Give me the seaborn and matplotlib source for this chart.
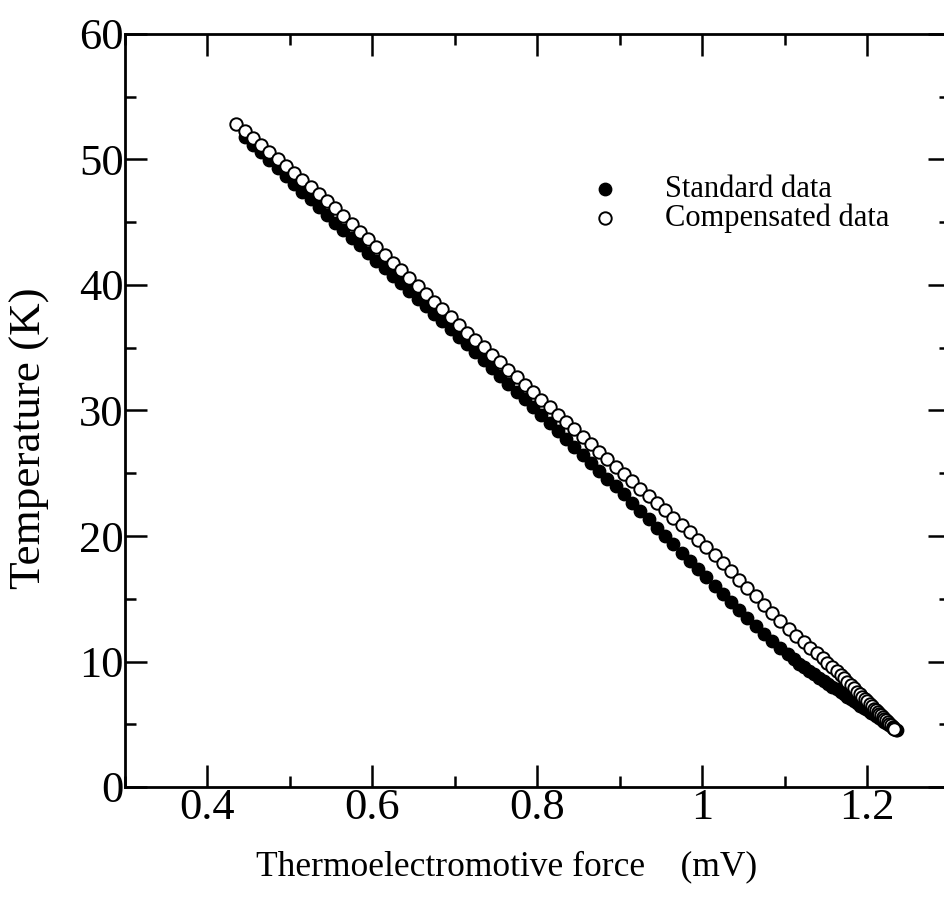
import matplotlib
matplotlib.use("Agg")
import matplotlib.pyplot as plt
import seaborn as sns
import pandas as pd
from matplotlib.ticker import MultipleLocator, FixedLocator

# ---------------- data ----------------
std_emf = [0.445, 0.455, 0.465, 0.475, 0.485, 0.495, 0.505, 0.515, 0.525, 0.535,
           0.545, 0.555, 0.565, 0.575, 0.585, 0.595, 0.605, 0.615, 0.625, 0.635,
           0.645, 0.655, 0.665, 0.675, 0.685, 0.695, 0.705, 0.715, 0.725, 0.735,
           0.745, 0.755, 0.765, 0.775, 0.785, 0.795, 0.805, 0.815, 0.825, 0.835,
           0.845, 0.855, 0.865, 0.875, 0.885, 0.895, 0.905, 0.915, 0.925, 0.935,
           0.945, 0.955, 0.965, 0.975, 0.985, 0.995, 1.005, 1.015, 1.025, 1.035,
           1.045, 1.055, 1.065, 1.075, 1.085, 1.095, 1.104, 1.111, 1.118, 1.124,
           1.130, 1.136, 1.142, 1.148, 1.153, 1.158, 1.163, 1.168, 1.172, 1.176,
           1.180, 1.184, 1.188, 1.192, 1.196, 1.199, 1.202, 1.205, 1.208, 1.211,
           1.214, 1.217, 1.219, 1.221, 1.223, 1.225, 1.227, 1.229, 1.231, 1.233,
           1.235, 1.236]
std_temp = [51.80, 51.18, 50.56, 49.94, 49.32, 48.70, 48.07, 47.45, 46.83, 46.21,
            45.59, 44.97, 44.36, 43.75, 43.15, 42.54, 41.94, 41.33, 40.73, 40.12,
            39.52, 38.91, 38.31, 37.70, 37.10, 36.49, 35.89, 35.28, 34.66, 34.03,
            33.40, 32.77, 32.14, 31.51, 30.88, 30.25, 29.62, 28.99, 28.36, 27.73,
            27.10, 26.47, 25.84, 25.21, 24.58, 23.95, 23.31, 22.65, 21.99, 21.32,
            20.66, 20.00, 19.34, 18.68, 18.02, 17.36, 16.70, 16.05, 15.39, 14.74,
            14.08, 13.45, 12.83, 12.22, 11.63, 11.06, 10.56, 10.19, 9.84, 9.55,
            9.27, 8.99, 8.72, 8.45, 8.22, 8.00, 7.78, 7.56, 7.38, 7.20,
            7.03, 6.85, 6.67, 6.49, 6.31, 6.18, 6.04, 5.91, 5.78, 5.64,
            5.51, 5.38, 5.29, 5.20, 5.11, 5.02, 4.93, 4.84, 4.76, 4.67,
            4.58, 4.54]

comp_emf = [0.435, 0.445, 0.455, 0.465, 0.475, 0.485, 0.495, 0.505, 0.515, 0.525,
            0.535, 0.545, 0.555, 0.565, 0.575, 0.585, 0.595, 0.605, 0.615, 0.625,
            0.635, 0.645, 0.655, 0.665, 0.675, 0.685, 0.695, 0.705, 0.715, 0.725,
            0.735, 0.745, 0.755, 0.765, 0.775, 0.785, 0.795, 0.805, 0.815, 0.825,
            0.835, 0.845, 0.855, 0.865, 0.875, 0.885, 0.895, 0.905, 0.915, 0.925,
            0.935, 0.945, 0.955, 0.965, 0.975, 0.985, 0.995, 1.005, 1.015, 1.025,
            1.035, 1.045, 1.055, 1.065, 1.075, 1.085, 1.095, 1.105, 1.114, 1.123,
            1.131, 1.139, 1.146, 1.152, 1.158, 1.163, 1.168, 1.172, 1.176, 1.180,
            1.184, 1.188, 1.191, 1.194, 1.197, 1.200, 1.203, 1.206, 1.209, 1.211,
            1.213, 1.215, 1.217, 1.219, 1.221, 1.223, 1.225, 1.227, 1.229, 1.231,
            1.232, 1.233]
comp_temp = [52.80, 52.24, 51.69, 51.13, 50.57, 50.02, 49.46, 48.90, 48.34, 47.79,
             47.23, 46.67, 46.11, 45.50, 44.88, 44.26, 43.64, 43.02, 42.40, 41.78,
             41.16, 40.54, 39.91, 39.29, 38.67, 38.05, 37.43, 36.81, 36.20, 35.61,
             35.02, 34.42, 33.83, 33.24, 32.65, 32.06, 31.46, 30.87, 30.28, 29.68,
             29.09, 28.50, 27.91, 27.31, 26.72, 26.13, 25.53, 24.94, 24.36, 23.78,
             23.20, 22.62, 22.04, 21.46, 20.88, 20.29, 19.71, 19.13, 18.50, 17.84,
             17.18, 16.52, 15.86, 15.19, 14.53, 13.87, 13.21, 12.58, 12.07, 11.55,
             11.10, 10.64, 10.24, 9.90, 9.56, 9.24, 8.91, 8.65, 8.39, 8.13,
             7.87, 7.60, 7.41, 7.21, 7.02, 6.82, 6.63, 6.43, 6.24, 6.11,
             5.97, 5.84, 5.71, 5.58, 5.44, 5.31, 5.18, 5.05, 4.91, 4.78,
             4.72, 4.65]

series_names = ["Standard data", "Compensated data"]
x_ticks = [0.4, 0.6, 0.8, 1.0, 1.2]
x_tick_labels = ["0.4", "0.6", "0.8", "1", "1.2"]
y_ticks = [0, 10, 20, 30, 40, 50, 60]
y_tick_labels = ["0", "10", "20", "30", "40", "50", "60"]
x_label = "Thermoelectromotive force    (mV)"
y_label = "Temperature (K)"

# ---------------- style ----------------
sns.set_style("ticks")
plt.rcParams["font.family"] = ["Liberation Serif", "DejaVu Serif"]
plt.rcParams["text.color"] = "black"
plt.rcParams["axes.labelcolor"] = "black"
plt.rcParams["xtick.color"] = "black"
plt.rcParams["ytick.color"] = "black"

W, H = 944, 913
fig = plt.figure(figsize=(W / 100, H / 100), dpi=100)
left_px, right_px, top_px, bottom_px = 125, 949.5, 34, 787
ax = fig.add_axes([left_px / W, 1 - bottom_px / H,
                   (right_px - left_px) / W, (bottom_px - top_px) / H])

df_std = pd.DataFrame({"emf": std_emf, "temp": std_temp})
df_comp = pd.DataFrame({"emf": comp_emf, "temp": comp_temp})

sns.scatterplot(data=df_std, x="emf", y="temp", ax=ax, marker="o",
                color="black", edgecolor="black", linewidth=1.0, s=80,
                label=series_names[0], zorder=3)
sns.scatterplot(data=df_comp, x="emf", y="temp", ax=ax, marker="o",
                facecolor="white", edgecolor="black", linewidth=1.4, s=80,
                label=series_names[1], zorder=4)

ax.set_xlim(0.3, 1.3)
ax.set_ylim(0, 60)
ax.xaxis.set_major_locator(FixedLocator(x_ticks))
ax.set_xticklabels(x_tick_labels)
ax.xaxis.set_minor_locator(MultipleLocator(0.1))
ax.yaxis.set_major_locator(FixedLocator(y_ticks))
ax.set_yticklabels(y_tick_labels)
ax.yaxis.set_minor_locator(MultipleLocator(5))

for s in ax.spines.values():
    s.set_visible(True)
    s.set_linewidth(2.0)
    s.set_color("black")

ax.tick_params(which="both", direction="in", top=True, right=True,
               color="black", width=1.8, labelcolor="black")
ax.tick_params(which="major", length=15.8)
ax.tick_params(which="minor", length=7.9)
ax.tick_params(axis="x", which="major", labelsize=32, pad=1)
ax.tick_params(axis="y", which="major", labelsize=32, pad=1)

ax.set_xlabel("")
ax.set_ylabel("")
fig.text(507 / W, 1 - 867 / H, x_label, ha="center", va="center",
         fontsize=25.5, color="black")
fig.text(30 / W, 1 - 438 / H, y_label, ha="center", va="center",
         rotation=90, fontsize=32.5, color="black")

leg = ax.legend(loc="center left", bbox_to_anchor=(574.5 / W, 1 - 204 / H),
                bbox_transform=fig.transFigure, frameon=False, fontsize=22,
                handlelength=2.0, handletextpad=0.95, borderpad=0,
                borderaxespad=0, labelspacing=0.0, markerscale=1.0)
for t in leg.get_texts():
    t.set_color("black")

fig.savefig("out.png", dpi=100)
